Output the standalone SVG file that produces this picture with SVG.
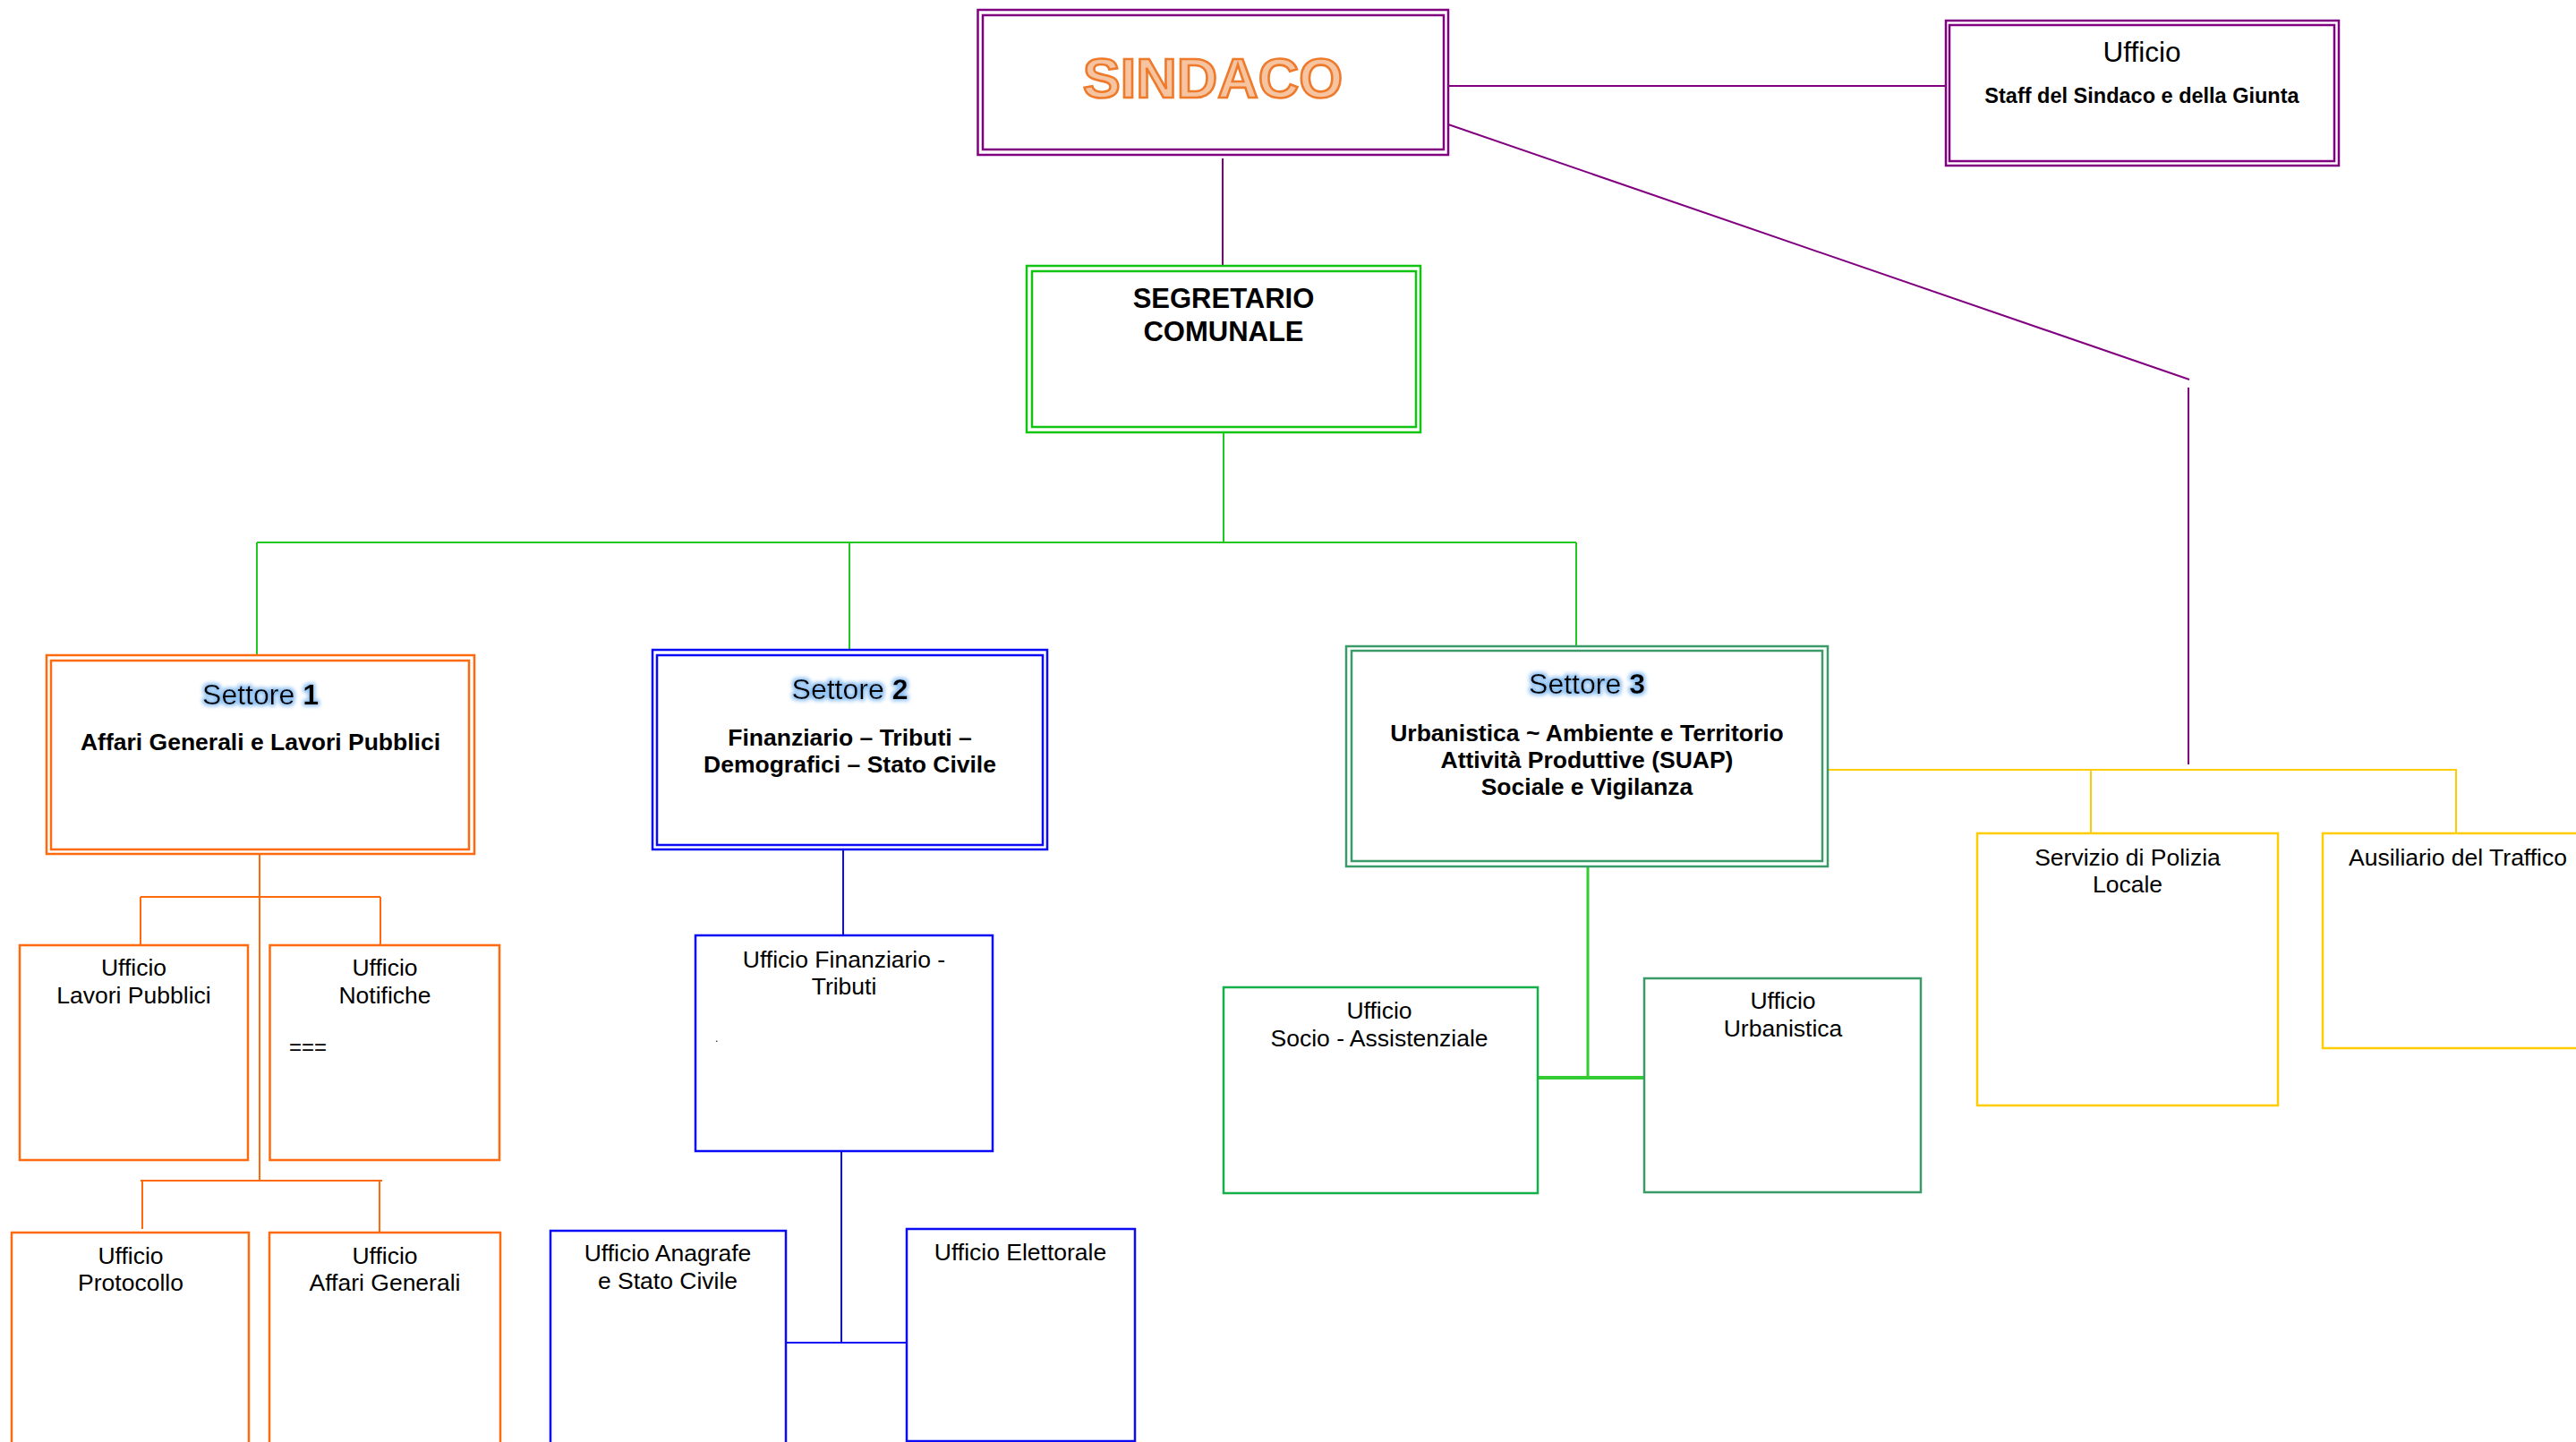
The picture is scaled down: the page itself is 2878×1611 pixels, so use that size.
<svg xmlns="http://www.w3.org/2000/svg" width="2878" height="1611" viewBox="0 0 2878 1611">
<defs>
<filter id="glow" x="-20%" y="-50%" width="140%" height="200%">
<feMorphology in="SourceAlpha" operator="dilate" radius="2" result="d"/>
<feGaussianBlur in="d" stdDeviation="2" result="b"/>
<feFlood flood-color="#8DC0F2"/>
<feComposite in2="b" operator="in" result="g"/>
<feMerge><feMergeNode in="g"/><feMergeNode in="SourceGraphic"/></feMerge>
</filter>
</defs>
<style>
text{font-family:"Liberation Sans",Arial,sans-serif;fill:#000}
.r{font-size:26.5px;text-anchor:middle}
.b{font-size:26.5px;font-weight:bold;text-anchor:middle}
.set{font-size:32px;text-anchor:middle}
rect{fill:#fff}
.pu{stroke:#800080;stroke-width:2.5}
.gr{stroke:#12C412;stroke-width:2.5}
.or{stroke:#FF6A0F;stroke-width:2.5}
.bl{stroke:#0A0AF5;stroke-width:2.5}
.tl{stroke:#3A9A68;stroke-width:2.5}
.sg{stroke:#14B04A;stroke-width:2.5}
.ye{stroke:#FFCC00;stroke-width:2.5}
.c path{fill:none;stroke-width:2}
</style>
<rect x="0" y="0" width="2878" height="1611" fill="#fff"/>

<g id="connectors" class="c">
<path stroke="#800080" d="M1618,96 H2174 M1366,177 V297 M1618,139 L2446,424 M2445,433 V854"/>
<path stroke="#22C822" d="M1367,483 V606 M287,606 H1761 M287,606 V732 M949,606 V726 M1761,606 V722"/>
<path stroke="#FF6A0F" d="M290,954 V1319 M157,1002 H425 M157,1002 V1056 M425,1002 V1056 M157,1319 H427 M159,1319 V1373 M424,1319 V1377"/>
<path stroke="#0A0AF5" d="M942,949 V1045 M940,1286 V1500 M878,1500 H1013"/>
<path stroke="#33CC33" style="stroke-width:3" d="M1774,968 V1204"/>
<path stroke="#33CC33" style="stroke-width:4" d="M1718,1204 H1837"/>
<path stroke="#FFCC00" d="M2042,860 H2745 M2336,860 V931 M2744,860 V931"/>
</g>

<g id="sindaco">
<rect class="pu" x="1092.5" y="11" width="525.5" height="162"/>
<rect class="pu" x="1098" y="17" width="515" height="150"/>
<text x="1355" y="109" style="font-size:63px;font-weight:bold;text-anchor:middle;fill:#F6C4A0;stroke:#EE7A2C;stroke-width:2.6">SINDACO</text>
</g>

<g id="staff">
<rect class="pu" x="2174" y="23" width="439" height="162"/>
<rect class="pu" x="2178" y="28" width="430" height="152"/>
<text x="2393" y="69" style="font-size:31.5px;text-anchor:middle">Ufficio</text>
<text x="2393" y="115" style="font-size:23.5px;font-weight:bold;text-anchor:middle">Staff del Sindaco e della Giunta</text>
</g>

<g id="segretario">
<rect class="gr" x="1147" y="297" width="440" height="186"/>
<rect class="gr" x="1153" y="303" width="429" height="174"/>
<text x="1367" y="344" style="font-size:31px;font-weight:bold;text-anchor:middle">SEGRETARIO</text>
<text x="1367" y="381" style="font-size:31px;font-weight:bold;text-anchor:middle">COMUNALE</text>
</g>

<g id="settore1">
<rect class="or" x="52" y="732" width="478" height="222"/>
<rect class="or" x="57" y="738" width="467" height="211"/>
<text class="set" x="291" y="787" filter="url(#glow)">Settore <tspan font-weight="bold">1</tspan></text>
<text class="b" x="291" y="838">Affari Generali e Lavori Pubblici</text>
</g>

<g id="settore2">
<rect class="bl" x="729" y="726" width="441" height="223"/>
<rect class="bl" x="734" y="732" width="431" height="212"/>
<text class="set" x="949.5" y="781" filter="url(#glow)">Settore <tspan font-weight="bold">2</tspan></text>
<text class="b" x="949.5" y="833">Finanziario – Tributi –</text>
<text class="b" x="949.5" y="863">Demografici – Stato Civile</text>
</g>

<g id="settore3">
<rect class="tl" x="1504" y="722" width="538" height="246"/>
<rect class="tl" x="1510" y="727" width="526" height="235"/>
<text class="set" x="1773" y="775" filter="url(#glow)">Settore <tspan font-weight="bold">3</tspan></text>
<text class="b" x="1773" y="828">Urbanistica ~ Ambiente e Territorio</text>
<text class="b" x="1773" y="858">Attività Produttive (SUAP)</text>
<text class="b" x="1773" y="888">Sociale e Vigilanza</text>
</g>

<g id="ufficio-lavori-pubblici">
<rect class="or" x="22" y="1056" width="255" height="240"/>
<text class="r" x="149.5" y="1090">Ufficio</text>
<text class="r" x="149.5" y="1121">Lavori Pubblici</text>
</g>

<g id="ufficio-notifiche">
<rect class="or" x="301.5" y="1056" width="256.5" height="240"/>
<text class="r" x="430" y="1090">Ufficio</text>
<text class="r" x="430" y="1121">Notifiche</text>
<text x="323" y="1178" style="font-size:24px">===</text>
</g>

<g id="ufficio-protocollo">
<rect class="or" x="13" y="1377" width="265" height="260"/>
<text class="r" x="146" y="1412">Ufficio</text>
<text class="r" x="146" y="1442">Protocollo</text>
</g>

<g id="ufficio-affari-generali">
<rect class="or" x="301" y="1377" width="258" height="260"/>
<text class="r" x="430" y="1412">Ufficio</text>
<text class="r" x="430" y="1442">Affari Generali</text>
</g>

<g id="ufficio-finanziario">
<rect class="bl" x="777" y="1045" width="332" height="241"/>
<text class="r" x="943" y="1081">Ufficio Finanziario -</text>
<text class="r" x="943" y="1111">Tributi</text>
<text x="799" y="1164" style="font-size:12px">.</text>
</g>

<g id="ufficio-anagrafe">
<rect class="bl" x="615" y="1375" width="263" height="260"/>
<text class="r" x="746" y="1409">Ufficio Anagrafe</text>
<text class="r" x="746" y="1440">e Stato Civile</text>
</g>

<g id="ufficio-elettorale">
<rect class="bl" x="1013" y="1373" width="255" height="237"/>
<text class="r" x="1140" y="1408">Ufficio Elettorale</text>
</g>

<g id="ufficio-socio-assistenziale">
<rect class="sg" x="1367" y="1103" width="351" height="230"/>
<text class="r" x="1541" y="1138">Ufficio</text>
<text class="r" x="1541" y="1169">Socio - Assistenziale</text>
</g>

<g id="ufficio-urbanistica">
<rect class="tl" x="1837" y="1093" width="309" height="239"/>
<text class="r" x="1992" y="1127">Ufficio</text>
<text class="r" x="1992" y="1158">Urbanistica</text>
</g>

<g id="polizia-locale">
<rect class="ye" x="2209" y="931" width="336" height="304"/>
<text class="r" x="2377" y="967">Servizio di Polizia</text>
<text class="r" x="2377" y="997">Locale</text>
</g>

<g id="ausiliario-traffico">
<rect class="ye" x="2595" y="931" width="310" height="240"/>
<text class="r" x="2746" y="967">Ausiliario del Traffico</text>
</g>
</svg>
